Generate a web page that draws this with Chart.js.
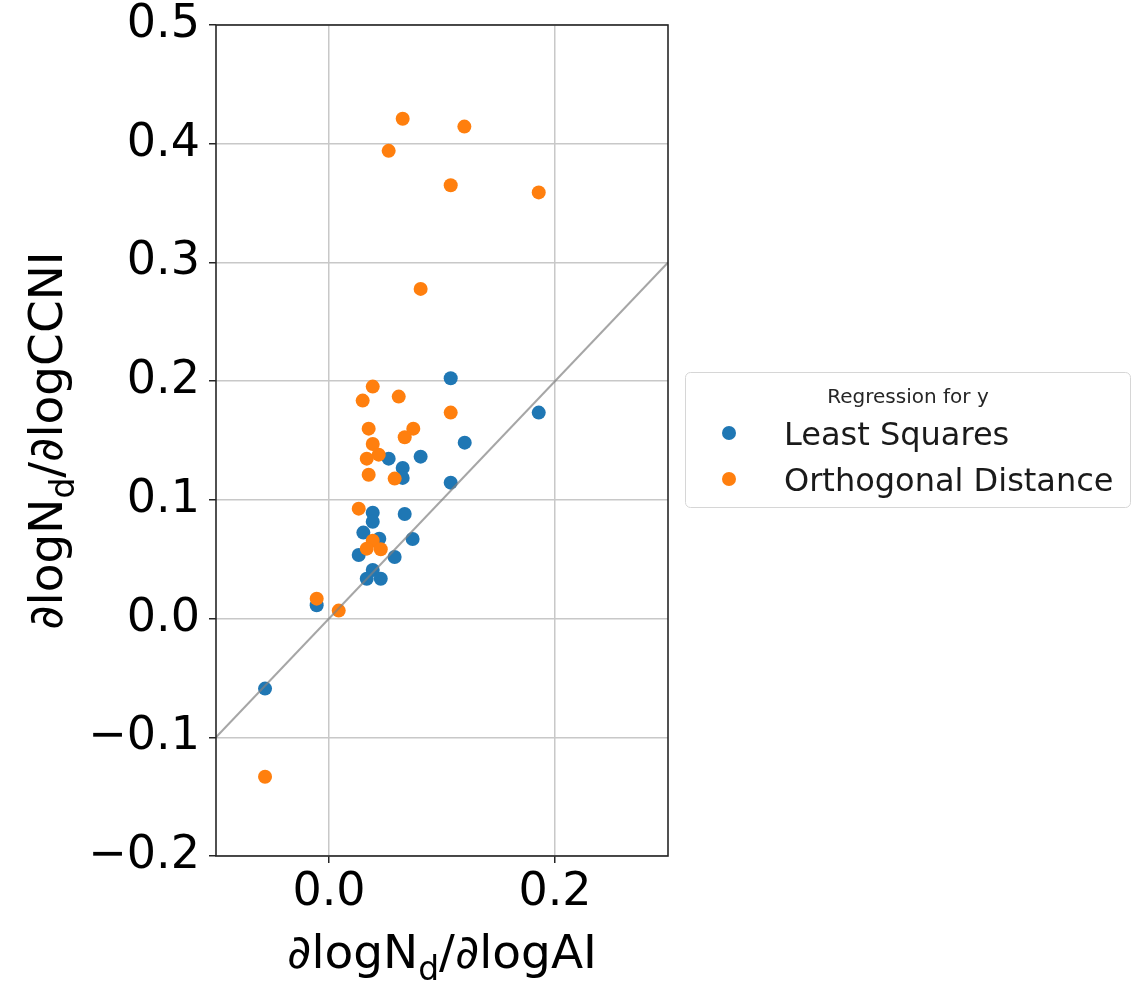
<!DOCTYPE html>
<html>
<head>
<meta charset="utf-8">
<title>∂logNd/∂logCCNI vs ∂logNd/∂logAI</title>
<script src="https://cdn.jsdelivr.net/npm/chart.js@4.4.1/dist/chart.umd.min.js"></script>
<style>
  html, body { margin: 0; padding: 0; background: #ffffff; }
  canvas { display: block; }
</style>
</head>
<body>
<canvas id="chart" width="1140" height="984"></canvas>
<script>
// Sensitivities per site: x = ∂logNd/∂logAI, y = ∂logNd/∂logCCNI
const lsX = [0.1077, 0.1856, 0.1201, 0.0811, 0.0528, 0.0652, 0.0652, 0.1077, 0.0387, 0.0670, 0.0387,
             0.0304, 0.0445, 0.0740, 0.0263, 0.0581, 0.0387, 0.0334, 0.0458, -0.0109, -0.0566];
const lsY = [0.2024, 0.1735, 0.1482, 0.1364, 0.1347, 0.1269, 0.1185, 0.1145, 0.0892, 0.0881, 0.0816,
             0.0724, 0.0673, 0.0670, 0.0536, 0.0519, 0.0409, 0.0336, 0.0336, 0.0112, -0.0590];

const odX = [0.0652, 0.1198, 0.0528, 0.1077, 0.1856, 0.0811, 0.0387, 0.0298, 0.0617, 0.1077, 0.0351,
             0.0746, 0.0670, 0.0387, 0.0440, 0.0334, 0.0351, 0.0581, 0.0263, 0.0387, 0.0334, 0.0458,
             -0.0109, 0.0086, -0.0566];
const odY = [0.4210, 0.4144, 0.3940, 0.3650, 0.3590, 0.2777, 0.1954, 0.1836, 0.1870, 0.1735, 0.1600,
             0.1600, 0.1527, 0.1471, 0.1381, 0.1347, 0.1212, 0.1179, 0.0926, 0.0656, 0.0589, 0.0584,
             0.0168, 0.0067, -0.1332];

// 1:1 reference line
const oneToOneX = [-0.1, 0.3];
const oneToOneY = [-0.1, 0.3];

// Axis ranges and tick labels
const xRange = [-0.1, 0.3];
const yRange = [-0.2, 0.5];
const xTicks = [0.0, 0.2];
const yTicks = [-0.2, -0.1, 0.0, 0.1, 0.2, 0.3, 0.4, 0.5];

const seriesNames = ['Least Squares', 'Orthogonal Distance'];
const legendTitle = 'Regression for y';
const xTitle = ['∂logN', 'd', '/∂logAI'];
const yTitle = ['∂logN', 'd', '/∂logCCNI'];

const FONT = 'DejaVu Sans';
const BLUE = '#1f77b4';
const ORANGE = '#ff7f0e';

const toPoints = (xs, ys) => xs.map((x, i) => ({ x: x, y: ys[i] }));
const fmt = v => (v < 0 ? '\u2212' : '') + Math.abs(v).toFixed(1);

// Text with a lowered subscript part, drawn from its centre
function drawSubscripted(ctx, parts, size) {
  const subSize = size * 0.7;
  ctx.font = size + 'px "' + FONT + '"';
  const w0 = ctx.measureText(parts[0]).width;
  const w2 = ctx.measureText(parts[2]).width;
  ctx.font = subSize + 'px "' + FONT + '"';
  const w1 = ctx.measureText(parts[1]).width;
  const total = w0 + w1 + w2;
  let x = -total / 2;
  ctx.textAlign = 'left';
  ctx.textBaseline = 'alphabetic';
  ctx.font = size + 'px "' + FONT + '"';
  ctx.fillText(parts[0], x, 0);
  x += w0;
  ctx.font = subSize + 'px "' + FONT + '"';
  ctx.fillText(parts[1], x, size * 0.26);
  x += w1;
  ctx.font = size + 'px "' + FONT + '"';
  ctx.fillText(parts[2], x, 0);
}

const framePlugin = {
  id: 'frame',
  afterDatasetsDraw(chart) {
    const { ctx, chartArea: a } = chart;
    ctx.save();
    ctx.strokeStyle = '#262626';
    ctx.lineWidth = 1.6;
    ctx.strokeRect(a.left, a.top, a.right - a.left, a.bottom - a.top);
    ctx.restore();
  },
  afterDraw(chart) {
    const { ctx, chartArea: a } = chart;
    ctx.save();
    ctx.fillStyle = '#000000';
    // x-axis title
    ctx.save();
    ctx.translate((a.left + a.right) / 2, 968);
    drawSubscripted(ctx, xTitle, 47);
    ctx.restore();
    // y-axis title
    ctx.save();
    ctx.translate(62, (a.top + a.bottom) / 2);
    ctx.rotate(-Math.PI / 2);
    drawSubscripted(ctx, yTitle, 47);
    ctx.restore();

    // legend box
    const bx = 685.5, by = 372.5, bw = 445, bh = 135, r = 5;
    ctx.beginPath();
    ctx.moveTo(bx + r, by);
    ctx.lineTo(bx + bw - r, by);
    ctx.arcTo(bx + bw, by, bx + bw, by + r, r);
    ctx.lineTo(bx + bw, by + bh - r);
    ctx.arcTo(bx + bw, by + bh, bx + bw - r, by + bh, r);
    ctx.lineTo(bx + r, by + bh);
    ctx.arcTo(bx, by + bh, bx, by + bh - r, r);
    ctx.lineTo(bx, by + r);
    ctx.arcTo(bx, by, bx + r, by, r);
    ctx.closePath();
    ctx.fillStyle = 'rgba(255,255,255,0.8)';
    ctx.fill();
    ctx.strokeStyle = '#d6d6d6';
    ctx.lineWidth = 1;
    ctx.stroke();

    ctx.fillStyle = '#262626';
    ctx.font = '20px "' + FONT + '"';
    ctx.textAlign = 'center';
    ctx.textBaseline = 'alphabetic';
    ctx.fillText(legendTitle, bx + bw / 2, 403);

    const colors = [BLUE, ORANGE];
    const rows = [445, 491];
    ctx.font = '32px "' + FONT + '"';
    ctx.textAlign = 'left';
    for (let i = 0; i < seriesNames.length; i++) {
      ctx.beginPath();
      ctx.arc(729, rows[i] - 12, 7, 0, Math.PI * 2);
      ctx.fillStyle = colors[i];
      ctx.fill();
      ctx.fillStyle = '#1a1a1a';
      ctx.fillText(seriesNames[i], 784, rows[i]);
    }
    ctx.restore();
  }
};

new Chart(document.getElementById('chart'), {
  type: 'scatter',
  data: {
    datasets: [
      {
        type: 'line',
        label: '1:1',
        data: toPoints(oneToOneX, oneToOneY),
        borderColor: 'rgba(128,128,128,0.7)',
        borderWidth: 2,
        pointRadius: 0,
        fill: false,
        order: 0
      },
      {
        label: seriesNames[0],
        data: toPoints(lsX, lsY),
        backgroundColor: BLUE,
        borderWidth: 0,
        pointRadius: 7,
        pointHoverRadius: 7,
        order: 2
      },
      {
        label: seriesNames[1],
        data: toPoints(odX, odY),
        backgroundColor: ORANGE,
        borderWidth: 0,
        pointRadius: 7,
        pointHoverRadius: 7,
        order: 1
      }
    ]
  },
  options: {
    responsive: false,
    devicePixelRatio: 1,
    animation: false,
    events: [],
    layout: { padding: { left: 0, right: 472, top: 25, bottom: 0 } },
    plugins: { legend: { display: false }, tooltip: { enabled: false } },
    scales: {
      x: {
        type: 'linear',
        min: xRange[0],
        max: xRange[1],
        afterBuildTicks: s => { s.ticks = xTicks.map(v => ({ value: v })); },
        afterFit: s => { s.height = 128; s.paddingLeft = 0; s.paddingRight = 0; },
        border: { display: false },
        grid: { color: '#c8c8c8', lineWidth: 1.5, drawTicks: true, tickLength: 7, tickColor: '#262626', tickWidth: 1.5 },
        ticks: { callback: v => fmt(v), color: '#000', padding: 7, maxRotation: 0,
                 font: { family: FONT, size: 46, lineHeight: 1.0 } }
      },
      y: {
        type: 'linear',
        min: yRange[0],
        max: yRange[1],
        afterBuildTicks: s => { s.ticks = yTicks.map(v => ({ value: v })); },
        afterFit: s => { s.width = 216; s.paddingTop = 0; s.paddingBottom = 0; },
        border: { display: false },
        grid: { color: '#c8c8c8', lineWidth: 1.5, drawTicks: true, tickLength: 7, tickColor: '#262626', tickWidth: 1.5 },
        ticks: { callback: v => fmt(v), color: '#000', padding: 9,
                 font: { family: FONT, size: 46, lineHeight: 1.0 } }
      }
    }
  },
  plugins: [framePlugin]
});
</script>
</body>
</html>
